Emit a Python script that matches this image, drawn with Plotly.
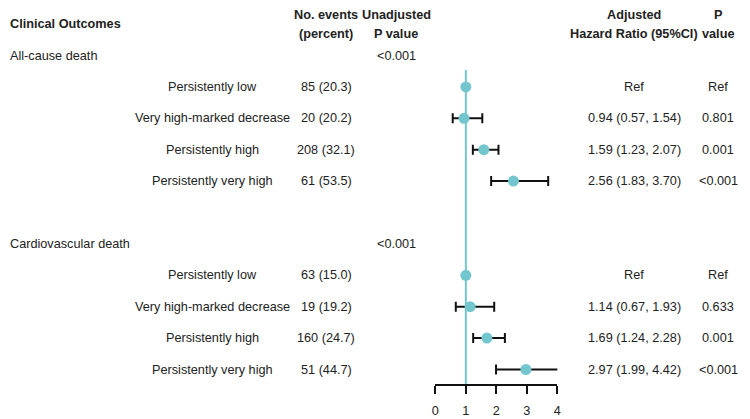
import plotly.graph_objects as go

# ---------------- data ----------------
groups = ["All-cause death", "Cardiovascular death"]
group_unadj_p = ["<0.001", "<0.001"]
subgroups = ["Persistently low", "Very high-marked decrease",
             "Persistently high", "Persistently very high"]
events = [["85 (20.3)", "20 (20.2)", "208 (32.1)", "61 (53.5)"],
          ["63 (15.0)", "19 (19.2)", "160 (24.7)", "51 (44.7)"]]
hr = [[1.00, 0.94, 1.59, 2.56],
      [1.00, 1.14, 1.69, 2.97]]
ci_lo = [[None, 0.57, 1.23, 1.83],
         [None, 0.67, 1.24, 1.99]]
ci_hi = [[None, 1.54, 2.07, 3.70],
         [None, 1.93, 2.28, 4.42]]
p_adj = [["Ref", "0.801", "0.001", "<0.001"],
         ["Ref", "0.633", "0.001", "<0.001"]]
x_ticks = [0, 1, 2, 3, 4]
ref_value = 1

# ---------------- layout helpers ----------------
W, H = 750, 419
FONT = "Liberation Sans, Arial, sans-serif"
FS = 12.7
TXT = "#222222"
TEAL = "#74C6CE"
ROW0_PX, ROW_PX = 55.5, 31.4      # pixel of row 0 and row spacing
AXIS_PX = 384                      # pixel of x-axis line
X0_PX, X4_PX = 436, 559.3          # pixel of x=0 and x=4

def row_of(px):
    return (px - ROW0_PX) / ROW_PX

col_label = 5 / W
col_sub = 211 / W
col_events = 325.5 / W
col_unadj = 396.5 / W
col_hr = 637 / W
col_p = 722 / W

annotations = []

def add_text(x, y, text, anchor="center", bold=False):
    annotations.append(dict(
        x=x, y=y, xref="paper", yref="y", text=f"<b>{text}</b>" if bold else text,
        showarrow=False, xanchor=anchor, yanchor="middle", borderpad=0,
        font=dict(family=FONT, size=FS, color=TXT)))

# headers
add_text(col_label, row_of(24.3), "Clinical Outcomes", anchor="left", bold=True)
add_text(col_events, row_of(14.7), "No. events", bold=True)
add_text(col_events, row_of(34.3), "(percent)", bold=True)
add_text(col_unadj, row_of(14.7), "Unadjusted", bold=True)
add_text(col_unadj, row_of(34.3), "P value", bold=True)
add_text(col_hr, row_of(14.7), "Adjusted", bold=True)
add_text(col_hr, row_of(34.3), "Hazard Ratio (95%CI)", bold=True)
add_text(col_p, row_of(14.7), "P", bold=True)
add_text(col_p, row_of(34.3), "value", bold=True)

pts_x, pts_y = [], []
eb_x, eb_y, eb_plus, eb_minus = [], [], [], []
for g, gname in enumerate(groups):
    start = g * 6
    add_text(col_label, start, gname, anchor="left")
    add_text(col_unadj, start, group_unadj_p[g])
    for i, sname in enumerate(subgroups):
        r = start + 1 + i
        add_text(col_sub, r, sname)
        add_text(col_events, r, events[g][i])
        if ci_lo[g][i] is None:
            hr_txt = "Ref"
        else:
            hr_txt = f"{hr[g][i]:.2f} ({ci_lo[g][i]:.2f}, {ci_hi[g][i]:.2f})"
            eb_x.append(hr[g][i]); eb_y.append(r)
            eb_plus.append(ci_hi[g][i] - hr[g][i])
            eb_minus.append(hr[g][i] - ci_lo[g][i])
        add_text(col_hr, r, hr_txt)
        add_text(col_p, r, p_adj[g][i])
        pts_x.append(hr[g][i]); pts_y.append(r)

fig = go.Figure()
# reference line at HR = 1
fig.add_trace(go.Scatter(
    x=[ref_value, ref_value], y=[row_of(70), row_of(AXIS_PX)], mode="lines",
    line=dict(color=TEAL, width=2), hoverinfo="skip", showlegend=False))
# error bars
fig.add_trace(go.Scatter(
    x=eb_x, y=eb_y, mode="markers", marker=dict(size=1, opacity=0),
    error_x=dict(type="data", symmetric=False, array=eb_plus, arrayminus=eb_minus,
                 color="#111111", thickness=2, width=5),
    cliponaxis=False, showlegend=False, hoverinfo="skip"))
# points
fig.add_trace(go.Scatter(
    x=pts_x, y=pts_y, mode="markers",
    marker=dict(size=11, color=TEAL, line=dict(width=0)),
    cliponaxis=False, showlegend=False))

fig.update_layout(
    width=W, height=H, margin=dict(l=0, r=0, t=0, b=0),
    paper_bgcolor="white", plot_bgcolor="white",
    annotations=annotations,
    xaxis=dict(domain=[X0_PX / W, X4_PX / W], range=[0, 4],
               tickvals=x_ticks, ticktext=[str(t) for t in x_ticks],
               showgrid=False, zeroline=False, showline=True, linecolor="#111111",
               linewidth=2, ticks="outside", ticklen=8, tickwidth=2, tickcolor="#111111",
               ticklabelstandoff=6,
               tickfont=dict(family=FONT, size=FS, color=TXT), fixedrange=True),
    yaxis=dict(domain=[(H - AXIS_PX) / H, 1], range=[row_of(AXIS_PX), row_of(0)],
               visible=False, showgrid=False, zeroline=False, fixedrange=True),
)

fig.write_html("out.html", config={"displayModeBar": False},
               post_script="document.body.style.margin='0';document.body.style.overflow='hidden';")
